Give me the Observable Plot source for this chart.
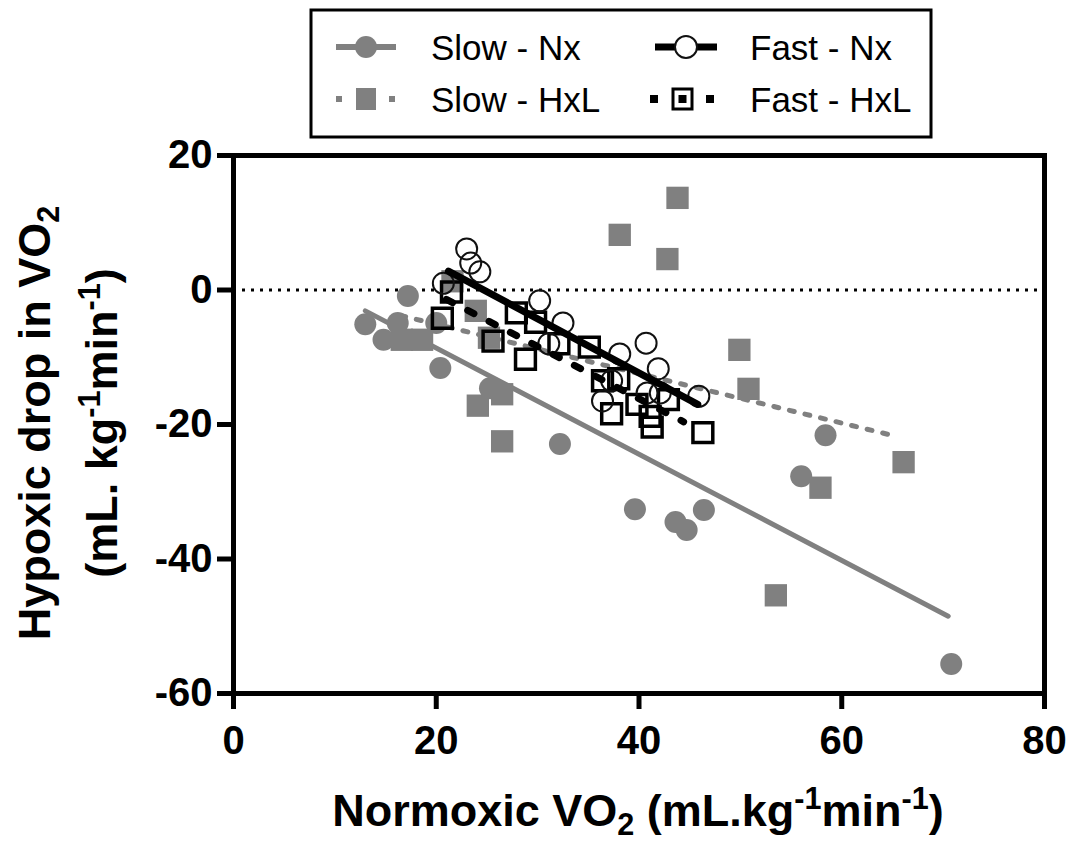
<!DOCTYPE html>
<html>
<head>
<meta charset="utf-8">
<script src="https://cdn.jsdelivr.net/npm/d3@7"></script>
<script src="https://cdn.jsdelivr.net/npm/@observablehq/plot@0.6"></script>
<style>
  html, body { margin: 0; padding: 0; background: #fff; }
  #wrap { width: 1072px; font-family: "Liberation Sans", Arial, Helvetica, sans-serif; }
  #legend, #legend svg { display: block; height: 140px; }
  #chart svg { display: block; }
</style>
</head>
<body>
<div id="wrap">
  <div id="legend"></div>
  <div id="chart"></div>
</div>
<script>
// ---- Data ----
const xTicks = [0, 20, 40, 60, 80];
const yTicks = [-60, -40, -20, 0, 20];

const seriesNames = ["Slow - Nx", "Fast - Nx", "Slow - HxL", "Fast - HxL"];

// Slow - Nx (grey filled circles)
const slowNxX = [13.0, 14.8, 16.2, 17.2, 20.0, 20.4, 25.3, 32.2, 39.6, 43.6, 44.7, 46.4, 56.0, 58.4, 70.8];
const slowNxY = [-5.1, -7.4, -4.9, -0.9, -4.9, -11.6, -14.6, -22.9, -32.6, -34.5, -35.7, -32.7, -27.7, -21.6, -55.6];

// Slow - HxL (grey filled squares)
const slowHxLX = [16.6, 18.6, 21.6, 23.9, 25.2, 24.1, 26.5, 26.5, 38.1, 42.8, 43.8, 49.9, 50.8, 53.5, 57.9, 66.1];
const slowHxLY = [-7.4, -7.4, 1.3, -3.1, -7.1, -17.2, -15.5, -22.5, 8.2, 4.6, 13.7, -8.9, -14.7, -45.4, -29.4, -25.6];

// Fast - Nx (open circles)
const fastNxX = [20.7, 23.0, 23.4, 24.3, 30.2, 32.5, 31.1, 38.1, 37.3, 36.4, 40.7, 41.9, 40.8, 42.1, 45.9];
const fastNxY = [1.0, 6.1, 4.0, 2.7, -1.6, -4.9, -8.0, -9.5, -13.5, -16.5, -7.9, -11.7, -15.3, -15.3, -15.8];

// Fast - HxL (open squares)
const fastHxLX = [21.5, 20.6, 25.6, 27.9, 29.8, 28.8, 32.1, 35.1, 36.4, 38.0, 37.3, 39.8, 41.1, 41.3, 42.9, 46.3];
const fastHxLY = [-0.3, -4.2, -7.6, -3.4, -4.8, -10.3, -8.0, -8.5, -13.5, -13.2, -18.4, -17.0, -18.8, -20.4, -16.3, -21.2];

// Regression lines (end points)
const fitSlowNxX = [13.0, 70.5];
const fitSlowNxY = [-3.1, -48.5];
const fitSlowHxLX = [16.5, 65.2];
const fitSlowHxLY = [-3.8, -21.7];
const fitFastNxX = [21.2, 45.8];
const fitFastNxY = [2.8, -17.0];
const fitFastHxLX = [21.0, 44.4];
const fitFastHxLY = [-1.4, -19.6];

const zeroLine = [0];

// ---- helpers ----
const pts = (xs, ys) => xs.map((x, i) => ({x, y: ys[i]}));
const GREY = "#808080";
const FONT = "'Liberation Sans', Arial, Helvetica, sans-serif";

// ---- Chart ----
const chart = Plot.plot({
  width: 1072,
  height: 704,
  marginLeft: 233,
  marginRight: 28,
  marginTop: 15,
  marginBottom: 151,
  style: {fontFamily: FONT, fontWeight: "bold", background: "#fff", color: "#000", overflow: "visible"},
  x: {domain: [0, 80], label: null},
  y: {domain: [-60, 20], label: null},
  marks: [
    Plot.ruleY(zeroLine, {stroke: "#000", strokeWidth: 3, strokeDasharray: "3,6"}),
    // Slow fits
    Plot.line(pts(fitSlowNxX, fitSlowNxY), {x: "x", y: "y", stroke: GREY, strokeWidth: 5}),
    Plot.line(pts(fitSlowHxLX, fitSlowHxLY), {x: "x", y: "y", stroke: GREY, strokeWidth: 5, strokeDasharray: "5,11"}),
    // Slow points
    Plot.dot(pts(slowNxX, slowNxY), {x: "x", y: "y", r: 11, fill: GREY, stroke: "none"}),
    Plot.dot(pts(slowHxLX, slowHxLY), {x: "x", y: "y", r: 12.6, symbol: "square", fill: GREY, stroke: "none"}),
    // Fast points
    Plot.dot(pts(fastHxLX, fastHxLY), {x: "x", y: "y", r: 11.2, symbol: "square", fill: "none", stroke: "#000", strokeWidth: 3.5}),
    Plot.dot(pts(fastNxX, fastNxY), {x: "x", y: "y", r: 10.5, fill: "none", stroke: "#111", strokeWidth: 2}),
    // Fast fits
    Plot.line(pts(fitFastHxLX, fitFastHxLY), {x: "x", y: "y", stroke: "#000", strokeWidth: 7, strokeDasharray: "7,17"}),
    Plot.line(pts(fitFastNxX, fitFastNxY), {x: "x", y: "y", stroke: "#000", strokeWidth: 7}),
    // Frame and axes
    Plot.frame({stroke: "#000", strokeWidth: 5}),
    Plot.axisX({ticks: xTicks, tickFormat: d => String(d), tickSize: 16, tickPadding: 16, strokeWidth: 5,
                fontSize: 40, fontWeight: "bold", label: null}),
    Plot.axisY({ticks: yTicks, tickFormat: d => String(d), tickSize: 16, tickPadding: 5, strokeWidth: 5,
                fontSize: 40, fontWeight: "bold", label: null})
  ]
});
document.getElementById("chart").appendChild(chart);

// ---- Axis titles with sub/superscripts ----
const svg = d3.select(chart);
const titles = svg.append("g").attr("font-family", FONT).attr("font-weight", "bold").attr("fill", "#000");

function richText(g, parts, size) {
  const t = g.append("text").attr("text-anchor", "middle").attr("font-size", size);
  let shift = 0;
  for (const p of parts) {
    const target = p.sub ? 9 : p.sup ? -17 : 0;
    t.append("tspan").attr("font-size", p.sub || p.sup ? size * 0.68 : size)
      .attr("dy", target - shift).text(p.t);
    shift = target;
  }
  return t;
}

// x title
richText(titles.append("g").attr("transform", "translate(638,686)"), [
  {t: "Normoxic VO"}, {t: "2", sub: true}, {t: " (mL.kg"}, {t: "-1", sup: true},
  {t: "min"}, {t: "-1", sup: true}, {t: ")"}
], 45);

// y title, two lines
richText(titles.append("g").attr("transform", "translate(50,283) rotate(-90)"), [
  {t: "Hypoxic drop in VO"}, {t: "2", sub: true}
], 45);
richText(titles.append("g").attr("transform", "translate(117,283) rotate(-90)"), [
  {t: "(mL. kg"}, {t: "-1", sup: true}, {t: "min"}, {t: "-1", sup: true}, {t: ")"}
], 45);

// ---- Legend (above the chart) ----
const lg = d3.select("#legend").append("svg").attr("width", 1072).attr("height", 140)
  .attr("font-family", FONT);
lg.append("rect").attr("x", 311).attr("y", 10).attr("width", 620).attr("height", 127)
  .attr("fill", "#fff").attr("stroke", "#000").attr("stroke-width", 3);

const rowY = [47, 99];
const symX = [366, 686];
const textX = [431, 750];
const legendItems = [
  {name: seriesNames[0], col: 0, row: 0},
  {name: seriesNames[1], col: 1, row: 0},
  {name: seriesNames[2], col: 0, row: 1},
  {name: seriesNames[3], col: 1, row: 1}
];
legendItems.forEach((it, i) => {
  const cx = symX[it.col], cy = rowY[it.row];
  const g = lg.append("g");
  if (i === 0) {
    g.append("line").attr("x1", cx - 30).attr("x2", cx + 30).attr("y1", cy).attr("y2", cy)
      .attr("stroke", GREY).attr("stroke-width", 6);
    g.append("circle").attr("cx", cx).attr("cy", cy).attr("r", 11).attr("fill", GREY);
  } else if (i === 1) {
    g.append("line").attr("x1", cx - 31).attr("x2", cx + 31).attr("y1", cy).attr("y2", cy)
      .attr("stroke", "#000").attr("stroke-width", 7);
    g.append("circle").attr("cx", cx).attr("cy", cy).attr("r", 11).attr("fill", "#fff")
      .attr("stroke", "#111").attr("stroke-width", 2);
  } else if (i === 2) {
    [-27, 26].forEach(dx => g.append("rect").attr("x", cx + dx - 3).attr("y", cy - 3)
      .attr("width", 6).attr("height", 6).attr("fill", GREY));
    g.append("rect").attr("x", cx - 10).attr("y", cy - 11).attr("width", 20).attr("height", 22).attr("fill", GREY);
  } else {
    [-32, 24].forEach(dx => g.append("rect").attr("x", cx + dx - 4).attr("y", cy - 4)
      .attr("width", 8).attr("height", 8).attr("fill", "#000"));
    g.append("rect").attr("x", cx - 13).attr("y", cy - 10).attr("width", 19).attr("height", 20)
      .attr("fill", "#fff").attr("stroke", "#000").attr("stroke-width", 3);
    g.append("rect").attr("x", cx - 7.5).attr("y", cy - 4).attr("width", 8).attr("height", 8).attr("fill", "#000");
  }
  lg.append("text").attr("x", textX[it.col]).attr("y", cy + 12.5).attr("font-size", 35)
    .attr("fill", "#000").text(it.name);
});
</script>
</body>
</html>
